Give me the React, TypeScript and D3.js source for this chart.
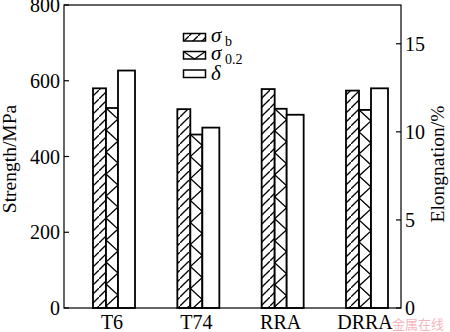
import React from 'react';
import * as d3 from 'd3';

const categories = ['T6', 'T74', 'RRA', 'DRRA'];
const sigmaB = [580, 525, 578, 574];
const sigma02 = [528, 458, 526, 523];
const elongation = [13.48, 10.24, 10.97, 12.47];
const strengthTicks = [0, 200, 400, 600, 800];
const elongTicks = [0, 5, 10, 15];

const W = 450, H = 332;
const L = 64, R = 401, T = 5, B = 308;
const FONT = "'Liberation Serif', 'Times New Roman', Times, serif";

const x = d3.scalePoint<string>().domain(categories).range([114, 367]);
const yS = d3.scaleLinear().domain([0, 800]).range([B, T]);
const yE = d3.scaleLinear().domain([0, 17.2]).range([B, T]);

// bar layout within a group: [offset from group centre, width]
const barB = { off: -21, w: 13 };
const bar02 = { off: -8, w: 12 };
const barD = { off: 4, w: 17 };

function zigzag(x0: number, w: number, yTop: number, yBot: number, step: number) {
  const p = d3.path();
  let y = yTop;
  let left = true;
  p.moveTo(x0, y);
  while (y < yBot) {
    const ny = Math.min(y + step, yBot);
    const frac = (ny - y) / step;
    const nx = left ? x0 + w * frac : x0 + w - w * frac;
    p.lineTo(nx, ny);
    y = ny;
    left = !left;
  }
  return p.toString();
}

const txt = { fontFamily: FONT };

export default function App() {
  const sw = 1.8;
  return (
    <svg width={W} height={H} style={{ position: 'absolute', left: 0, top: 0, background: '#fff', fontFamily: FONT }}>
      <defs>
        <pattern id="hatch" patternUnits="userSpaceOnUse" width={9} height={9}>
          <path d="M-1,10 L10,-1" stroke="#000" strokeWidth={1.3} />
        </pattern>
        {categories.map((c, i) => (
          <clipPath id={`clip02-${i}`} key={c}>
            <rect x={(x(c) as number) + bar02.off} y={yS(sigma02[i])} width={bar02.w} height={B - yS(sigma02[i])} />
          </clipPath>
        ))}
      </defs>
      <rect x={0} y={0} width={W} height={H} fill="#fff" />

      {categories.map((c, i) => {
        const cx = x(c) as number;
        const yb = yS(sigmaB[i]);
        const y2 = yS(sigma02[i]);
        const yd = yE(elongation[i]);
        return (
          <g key={c}>
            <rect x={cx + barB.off} y={yb} width={barB.w} height={B - yb} fill="url(#hatch)" stroke="#000" strokeWidth={sw} />
            <rect x={cx + bar02.off} y={y2} width={bar02.w} height={B - y2} fill="#fff" />
            <path d={zigzag(cx + bar02.off, bar02.w, y2, B, 11)} fill="none" stroke="#000" strokeWidth={1.3} clipPath={`url(#clip02-${i})`} />
            <rect x={cx + bar02.off} y={y2} width={bar02.w} height={B - y2} fill="none" stroke="#000" strokeWidth={sw} />
            <rect x={cx + barD.off} y={yd} width={barD.w} height={B - yd} fill="#fff" stroke="#000" strokeWidth={sw} />
          </g>
        );
      })}

      {/* frame */}
      <rect x={L} y={T} width={R - L} height={B - T} fill="none" stroke="#000" strokeWidth={1.2} />

      {/* left axis ticks */}
      {strengthTicks.map(t => (
        <g key={`l${t}`}>
          <line x1={L} x2={L + 5} y1={yS(t)} y2={yS(t)} stroke="#000" strokeWidth={1.2} />
          <text style={txt} x={L - 4} y={yS(t)} dy="0.35em" textAnchor="end" fontSize={20}>{t}</text>
        </g>
      ))}
      {/* right axis ticks */}
      {elongTicks.map(t => (
        <g key={`r${t}`}>
          <line x1={R - 5} x2={R} y1={yE(t)} y2={yE(t)} stroke="#000" strokeWidth={1.2} />
          <text style={txt} x={R + 4} y={yE(t)} dy="0.35em" textAnchor="start" fontSize={20}>{t}</text>
        </g>
      ))}
      {/* category labels */}
      {categories.map(c => (
        <text style={txt} key={`c${c}`} x={(x(c) as number) - 2} y={329} textAnchor="middle" fontSize={20}>{c}</text>
      ))}

      {/* axis titles */}
      <text style={txt} transform={`translate(16,159) rotate(-90)`} textAnchor="middle" fontSize={19.5}>Strength/MPa</text>
      <text style={txt} transform={`translate(444,164) rotate(-90)`} textAnchor="middle" fontSize={19.5}>Elongnation/%</text>

      {/* legend */}
      <g>
        <rect x={183.5} y={33.5} width={22} height={7.5} fill="url(#hatch)" stroke="#000" strokeWidth={1.5} />
        <rect x={183.5} y={51.5} width={22} height={7.5} fill="#fff" stroke="#000" strokeWidth={1.5} />
        <path d={`M183.5,51.5 L194.5,59 L205.5,51.5`} fill="none" stroke="#000" strokeWidth={1.2} />
        <rect x={183.5} y={70} width={22} height={7.5} fill="#fff" stroke="#000" strokeWidth={1.5} />
        <text style={txt} x={211} y={42} fontSize={21} fontStyle="italic">σ</text>
        <text style={txt} x={225} y={46} fontSize={14}>b</text>
        <text style={txt} x={211} y={60} fontSize={21} fontStyle="italic">σ</text>
        <text style={txt} x={225} y={64} fontSize={14}>0.2</text>
        <text style={txt} x={211} y={80} fontSize={21} fontStyle="italic">δ</text>
      </g>

      {/* watermark */}
      <text x={392} y={329} fontSize={13} fill="#f2a0a8" opacity={0.75} style={{ fontFamily: "'Noto Sans CJK SC', sans-serif" }}>金属在线</text>
    </svg>
  );
}
